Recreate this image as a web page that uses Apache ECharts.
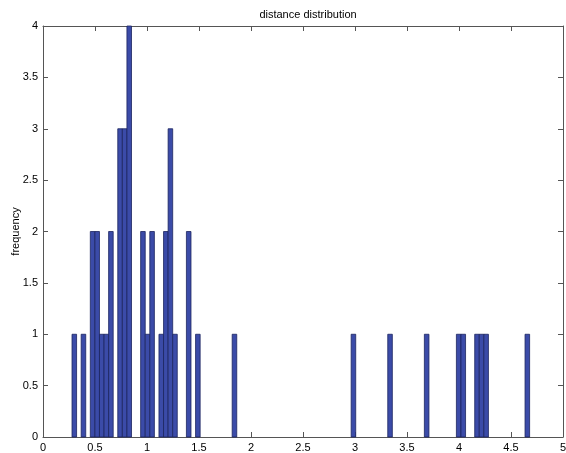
<!DOCTYPE html>
<html>
<head>
<meta charset="utf-8">
<script src="https://cdn.jsdelivr.net/npm/echarts@6/dist/echarts.min.js"></script>
<style>
  html, body { margin: 0; padding: 0; background: #fff; }
  #chart { width: 566px; height: 453px; }
</style>
</head>
<body>
<div id="chart"></div>
<script>
// histogram bins (centers + counts)
var binWidth = 0.044;
var binCenters = [0.301, 0.389, 0.477, 0.521, 0.565, 0.609, 0.653, 0.741, 0.785, 0.829,
  0.961, 1.005, 1.049, 1.137, 1.181, 1.225, 1.269, 1.401, 1.489, 1.841,
  2.985, 3.337, 3.689, 3.997, 4.041, 4.173, 4.217, 4.261, 4.657];
var counts = [1, 1, 2, 2, 1, 1, 2, 3, 3, 4,
  2, 1, 2, 1, 2, 3, 1, 2, 1, 1,
  1, 1, 1, 1, 1, 1, 1, 1, 1];
var xTicks = [0, 0.5, 1, 1.5, 2, 2.5, 3, 3.5, 4, 4.5, 5];
var yTicks = [0, 0.5, 1, 1.5, 2, 2.5, 3, 3.5, 4];

var chart = echarts.init(document.getElementById('chart'));

var axisStyle = { color: '#555', width: 1 };
var labelStyle = { color: '#000', fontSize: 11, fontFamily: 'Liberation Sans, Arial, sans-serif' };

function axisBase(pos, ticks, showLabel) {
  return {
    type: 'value',
    position: pos,
    min: ticks[0],
    max: ticks[ticks.length - 1],
    interval: 0.5,
    axisLine: { show: true, onZero: false, lineStyle: axisStyle },
    axisTick: { show: true, inside: true, length: 5, lineStyle: axisStyle },
    axisLabel: showLabel ? Object.assign({ margin: 5 }, labelStyle) : { show: false },
    splitLine: { show: false }
  };
}

var yLeft = axisBase('left', yTicks, true);
yLeft.name = 'frequency';
yLeft.nameLocation = 'middle';
yLeft.nameGap = 22;
yLeft.nameMoveOverlap = false;
yLeft.nameTextStyle = labelStyle;

chart.setOption({
  animation: false,
  title: {
    text: 'distance distribution',
    left: 303,
    top: 4,
    textAlign: 'center',
    textStyle: { color: '#000', fontSize: 11, fontWeight: 'normal', fontFamily: 'Liberation Sans, Arial, sans-serif' }
  },
  grid: { left: 43, right: 3, top: 26, bottom: 16, containLabel: false, outerBoundsMode: 'none' },
  xAxis: [axisBase('bottom', xTicks, true), axisBase('top', xTicks, false)],
  yAxis: [yLeft, axisBase('right', yTicks, false)],
  series: [{
    type: 'custom',
    xAxisIndex: 0,
    yAxisIndex: 0,
    renderItem: function (params, api) {
      var x = api.value(0);
      var h = api.value(1);
      var p0 = api.coord([x - binWidth / 2, 0]);
      var p1 = api.coord([x + binWidth / 2, h]);
      return {
        type: 'rect',
        shape: { x: p0[0], y: p1[1], width: p1[0] - p0[0], height: p0[1] - p1[1] },
        style: { fill: '#3b4ba8', stroke: '#1c2560', lineWidth: 0.8 }
      };
    },
    encode: { x: 0, y: 1 },
    data: binCenters.map(function (c, i) { return [c, counts[i]]; })
  }]
});
</script>
</body>
</html>
